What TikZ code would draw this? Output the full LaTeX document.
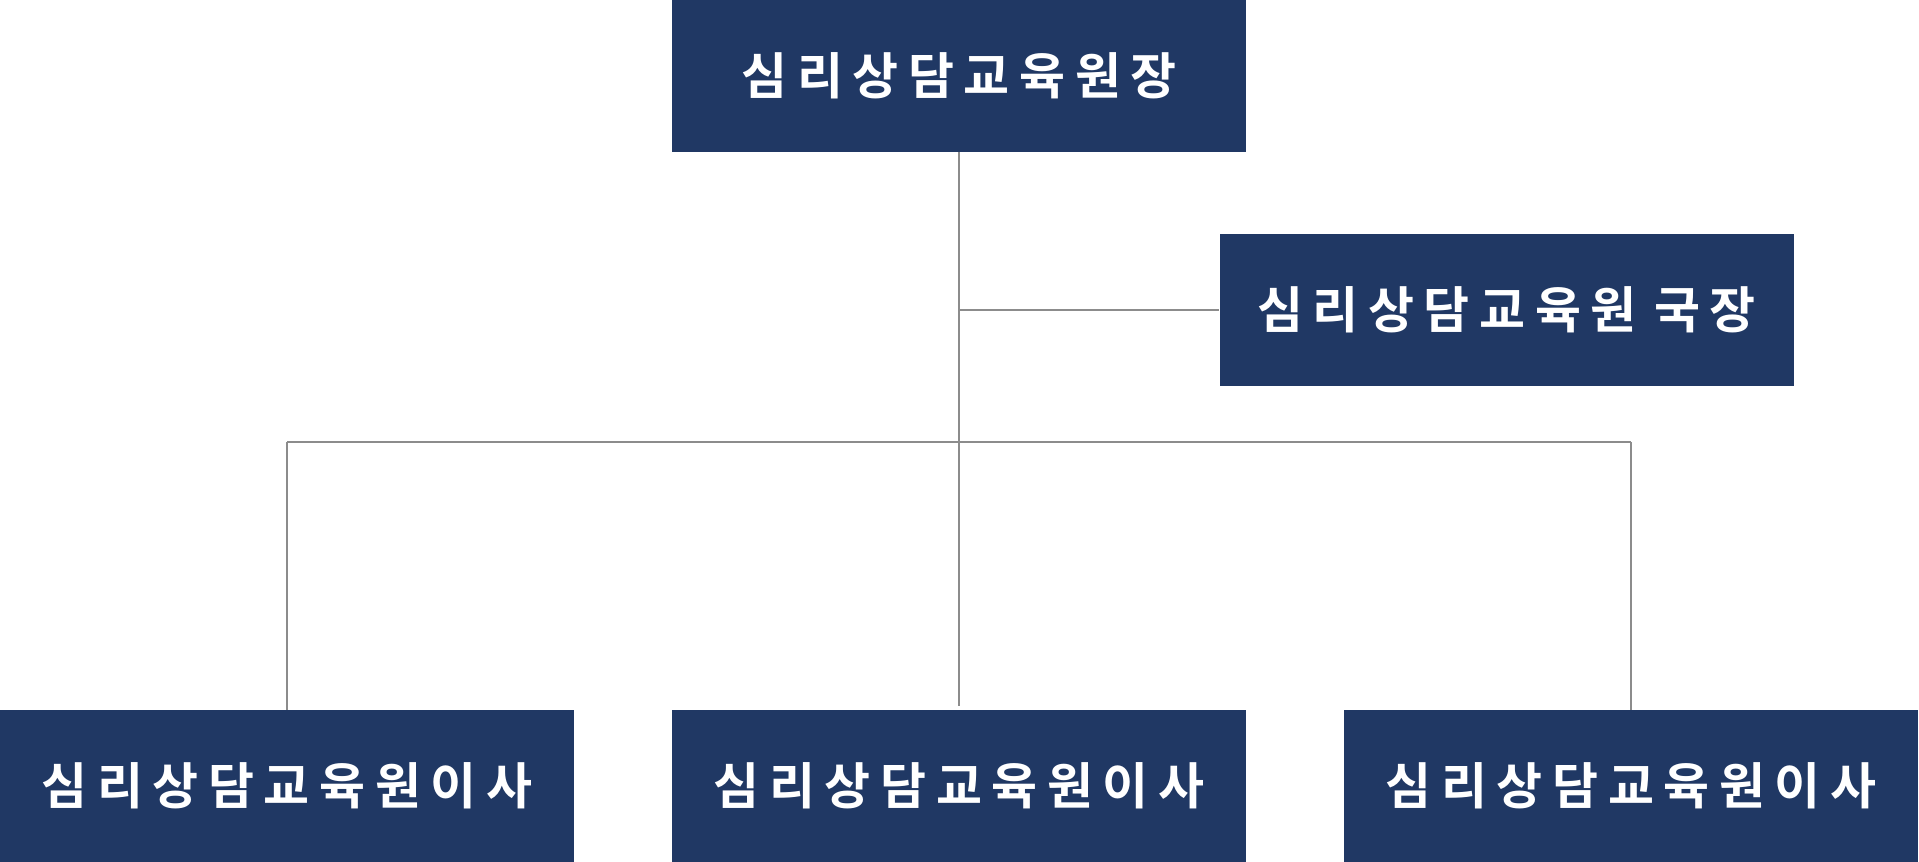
\documentclass[tikz,border=0pt]{standalone}
\usepackage{fontspec}
\newfontfamily\krfont{Noto Sans CJK KR Bold}
\definecolor{boxblue}{HTML}{203864}
\definecolor{linegray}{HTML}{8C8C8C}
\newcommand\cb[1]{\makebox[27.8pt]{\raisebox{1.2pt}{#1}}}
\begin{document}
\begin{tikzpicture}[x=0.5pt,y=-0.5pt,
  box/.style={fill=boxblue, text=white, minimum width=287pt, minimum height=76pt,
    inner sep=0pt, font=\krfont\fontsize{25}{30}\selectfont},
  conn/.style={draw=linegray, line width=1pt}]
\useasboundingbox (0,0) rectangle (1919,862);
\node[box] (head) at (959,75.5) {\cb{심}\cb{리}\cb{상}\cb{담}\cb{교}\cb{육}\cb{원}\cb{장}};
\node[box] (guk) at (1506.5,310) {\cb{심}\cb{리}\cb{상}\cb{담}\cb{교}\cb{육}\cb{원}\hspace{4pt}\cb{국}\cb{장}};
\node[box] (b1) at (287,786) {\cb{심}\cb{리}\cb{상}\cb{담}\cb{교}\cb{육}\cb{원}\cb{이}\cb{사}};
\node[box] (b2) at (959,786) {\cb{심}\cb{리}\cb{상}\cb{담}\cb{교}\cb{육}\cb{원}\cb{이}\cb{사}};
\node[box] (b3) at (1631,786) {\cb{심}\cb{리}\cb{상}\cb{담}\cb{교}\cb{육}\cb{원}\cb{이}\cb{사}};
\coordinate (bus) at (959,442);
\draw[conn] (head.south) -- ([yshift=2pt]b2.north);
\draw[conn] (head.south |- guk.west) -- (guk.west);
\draw[conn] (b1.north |- bus) -- (b3.north |- bus);
\draw[conn] (b1.north |- bus) -- (b1.north);
\draw[conn] (b3.north |- bus) -- (b3.north);
\end{tikzpicture}
\end{document}
